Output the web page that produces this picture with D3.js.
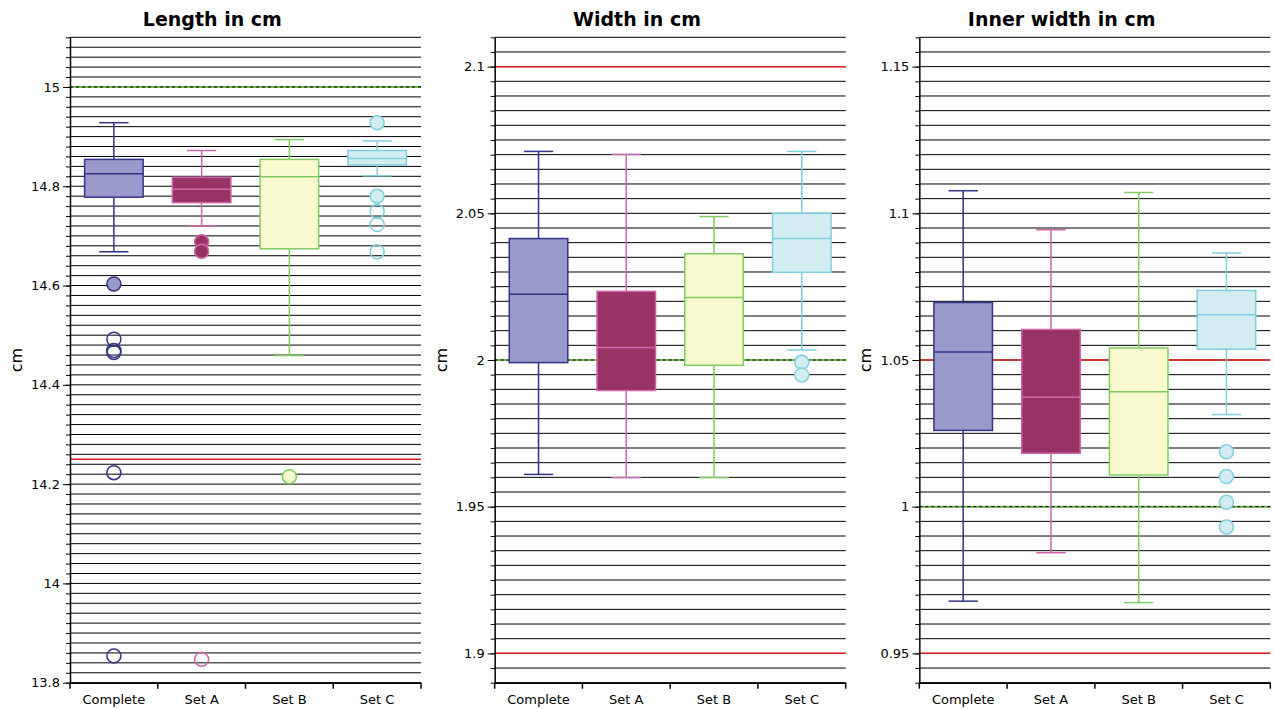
<!DOCTYPE html>
<html>
<head>
<meta charset="utf-8">
<script src="https://cdn.jsdelivr.net/npm/d3@7"></script>
<style>
	body { margin: 0; background: #fff; }
	text { font-family: "DejaVu Sans", sans-serif; }
</style>
</head>
<body>
<div id="chart"></div>
<script>
// categories shared by all three panels
var categories = ["Complete", "Set A", "Set B", "Set C"];

var titles = ["Length in cm", "Width in cm", "Inner width in cm"];

// box statistics per category: [lower whisker, Q1, median, Q3, upper whisker]
var lengthStats = [
	[14.668, 14.778, 14.825, 14.854, 14.928],
	[14.720, 14.767, 14.794, 14.818, 14.872],
	[14.459, 14.674, 14.819, 14.854, 14.894],
	[14.821, 14.843, 14.856, 14.872, 14.891]
];
var widthStats = [
	[1.9610, 1.9991, 2.0224, 2.0414, 2.0711],
	[1.9599, 1.9896, 2.0043, 2.0234, 2.0701],
	[1.9599, 1.9982, 2.0213, 2.0362, 2.0489],
	[2.0034, 2.0299, 2.0414, 2.0500, 2.0711]
];
var innerStats = [
	[0.9678, 1.0260, 1.0527, 1.0696, 1.1077],
	[0.9843, 1.0182, 1.0373, 1.0604, 1.0944],
	[0.9673, 1.0108, 1.0392, 1.0541, 1.1071],
	[1.0314, 1.0537, 1.0654, 1.0737, 1.0865]
];

// outliers (mild = filled, extreme = open) per category
var lengthMild = [[14.603], [14.688, 14.669], [14.215], [14.928, 14.780]];
var lengthExtreme = [[14.492, 14.469, 14.465, 14.223, 13.854], [13.847], [], [14.749, 14.723, 14.668]];
var widthMild = [[], [], [], [1.9992, 1.9949]];
var widthExtreme = [[], [], [], []];
var innerMild = [[], [], [], [1.0187, 1.0103, 1.0015, 0.9931]];
var innerExtreme = [[], [], [], []];

// axis ranges, grid step, labelled ticks
var yDomains = [[13.8, 15.1], [1.89, 2.11], [0.94, 1.16]];
var gridSteps = [0.02, 0.005, 0.005];
var lengthTicks = [13.8, 14, 14.2, 14.4, 14.6, 14.8, 15];
var widthTicks = [1.9, 1.95, 2, 2.05, 2.1];
var innerTicks = [0.95, 1, 1.05, 1.1, 1.15];

// reference lines: nominal (green dashed) and limits (red)
var nominal = [15, 2, 1];
var limits = [[14.25], [1.9, 2.1], [0.95, 1.05]];

var fills = ["#9999cc", "#993366", "#fafad0", "#d2ecf2"];
var strokes = ["#333388", "#cc66aa", "#80cc60", "#80d0e0"];

var W = 1274, H = 709;
var panelW = W / 3;
var margin = { left: 70, top: 37.3, bottom: 26.3 };
var plotW = 351;

var svg = d3.select("#chart").append("svg")
	.attr("width", W)
	.attr("height", H);

var panels = [
	{ stats: lengthStats, mild: lengthMild, extreme: lengthExtreme, ticks: lengthTicks },
	{ stats: widthStats, mild: widthMild, extreme: widthExtreme, ticks: widthTicks },
	{ stats: innerStats, mild: innerMild, extreme: innerExtreme, ticks: innerTicks }
];

panels.forEach(function (p, i) {
	drawPanel(p, i);
});

function drawPanel(p, i) {
	let g = svg.append("g")
		.attr("transform", "translate(" + (i * panelW) + ",0)");

	let x = d3.scaleBand()
		.domain(categories)
		.range([margin.left, margin.left + plotW]);

	let y = d3.scaleLinear()
		.domain(yDomains[i])
		.range([H - margin.bottom, margin.top]);

	let dom = yDomains[i];
	let step = gridSteps[i];
	let n = Math.round((dom[1] - dom[0]) / step);
	let grid = d3.range(n + 1).map(function (k) {
		return +(dom[0] + k * step).toFixed(4);
	});

	// horizontal grid
	g.append("g")
		.attr("class", "grid")
		.selectAll("line")
		.data(grid)
		.enter().append("line")
		.attr("x1", margin.left)
		.attr("x2", margin.left + plotW)
		.attr("y1", function (d) { return y(d); })
		.attr("y2", function (d) { return y(d); })
		.attr("stroke", "#000")
		.attr("stroke-width", 1);

	// reference lines
	g.append("line")
		.attr("x1", margin.left).attr("x2", margin.left + plotW)
		.attr("y1", y(nominal[i])).attr("y2", y(nominal[i]))
		.attr("stroke", "#70b850").attr("stroke-width", 2);
	g.append("line")
		.attr("x1", margin.left).attr("x2", margin.left + plotW)
		.attr("y1", y(nominal[i])).attr("y2", y(nominal[i]))
		.attr("stroke", "#000").attr("stroke-width", 1)
		.attr("stroke-dasharray", "3,3");

	g.selectAll(".limit")
		.data(limits[i])
		.enter().append("line")
		.attr("class", "limit")
		.attr("x1", margin.left).attr("x2", margin.left + plotW)
		.attr("y1", function (d) { return y(d); })
		.attr("y2", function (d) { return y(d); })
		.attr("stroke", "#e02020").attr("stroke-width", 1.5);

	let boxW = x.bandwidth() * 0.667;
	let capW = boxW / 2;

	let box = g.selectAll(".box")
		.data(p.stats)
		.enter().append("g")
		.attr("class", "box");

	// whiskers
	box.append("line")
		.attr("x1", function (d, j) { return x(categories[j]) + x.bandwidth() / 2; })
		.attr("x2", function (d, j) { return x(categories[j]) + x.bandwidth() / 2; })
		.attr("y1", function (d) { return y(d[0]); })
		.attr("y2", function (d) { return y(d[4]); })
		.attr("stroke", function (d, j) { return strokes[j]; })
		.attr("stroke-width", 1.5);

	[0, 4].forEach(function (q) {
		box.append("line")
			.attr("x1", function (d, j) { return x(categories[j]) + x.bandwidth() / 2 - capW / 2; })
			.attr("x2", function (d, j) { return x(categories[j]) + x.bandwidth() / 2 + capW / 2; })
			.attr("y1", function (d) { return y(d[q]); })
			.attr("y2", function (d) { return y(d[q]); })
			.attr("stroke", function (d, j) { return strokes[j]; })
			.attr("stroke-width", 1.5);
	});

	box.append("rect")
		.attr("x", function (d, j) { return x(categories[j]) + (x.bandwidth() - boxW) / 2; })
		.attr("width", boxW)
		.attr("y", function (d) { return y(d[3]); })
		.attr("height", function (d) { return y(d[1]) - y(d[3]); })
		.attr("fill", function (d, j) { return fills[j]; })
		.attr("stroke", function (d, j) { return strokes[j]; })
		.attr("stroke-width", 1.5);

	box.append("line")
		.attr("x1", function (d, j) { return x(categories[j]) + (x.bandwidth() - boxW) / 2; })
		.attr("x2", function (d, j) { return x(categories[j]) + (x.bandwidth() + boxW) / 2; })
		.attr("y1", function (d) { return y(d[2]); })
		.attr("y2", function (d) { return y(d[2]); })
		.attr("stroke", function (d, j) { return strokes[j]; })
		.attr("stroke-width", 1.5);

	// outliers
	categories.forEach(function (c, j) {
		let cx = x(c) + x.bandwidth() / 2;
		g.selectAll(null)
			.data(p.mild[j])
			.enter().append("circle")
			.attr("cx", cx)
			.attr("cy", function (d) { return y(d); })
			.attr("r", 7)
			.attr("fill", fills[j])
			.attr("stroke", strokes[j])
			.attr("stroke-width", 1.5);
		g.selectAll(null)
			.data(p.extreme[j])
			.enter().append("circle")
			.attr("cx", cx)
			.attr("cy", function (d) { return y(d); })
			.attr("r", 7)
			.attr("fill", "none")
			.attr("stroke", strokes[j])
			.attr("stroke-width", 1.5);
	});

	// y axis with minor ticks
	g.append("g")
		.attr("transform", "translate(" + margin.left + ",0)")
		.call(d3.axisLeft(y).tickValues(grid).tickSize(4).tickFormat(""))
		.call(function (a) { a.select(".domain").remove(); });

	let yAxis = g.append("g")
		.attr("transform", "translate(" + margin.left + ",0)")
		.call(d3.axisLeft(y).tickValues(p.ticks).tickSize(7).tickSizeOuter(0).tickFormat(d3.format("~g")));
	yAxis.selectAll("text").attr("font-size", 13).attr("fill", "#000");
	yAxis.select(".domain").attr("stroke-width", 1.5);

	// x axis
	let xAxis = g.append("g")
		.attr("transform", "translate(0," + (H - margin.bottom) + ")")
		.call(d3.axisBottom(x).tickSize(0).tickPadding(12));
	xAxis.select(".domain").attr("stroke-width", 1.5);
	xAxis.selectAll("text").attr("font-size", 13).attr("fill", "#000");

	g.append("g")
		.selectAll("line")
		.data(d3.range(categories.length + 1))
		.enter().append("line")
		.attr("x1", function (k) { return margin.left + k * x.step(); })
		.attr("x2", function (k) { return margin.left + k * x.step(); })
		.attr("y1", H - margin.bottom)
		.attr("y2", H - margin.bottom + 6)
		.attr("stroke", "#000")
		.attr("stroke-width", 1.5);

	// titles
	g.append("text")
		.attr("x", panelW / 2)
		.attr("y", 26)
		.attr("text-anchor", "middle")
		.attr("font-size", 19)
		.attr("font-weight", "bold")
		.text(titles[i]);

	g.append("text")
		.attr("transform", "translate(22," + ((margin.top + H - margin.bottom) / 2) + ") rotate(-90)")
		.attr("text-anchor", "middle")
		.attr("font-size", 16)
		.text("cm");
}
</script>
</body>
</html>
